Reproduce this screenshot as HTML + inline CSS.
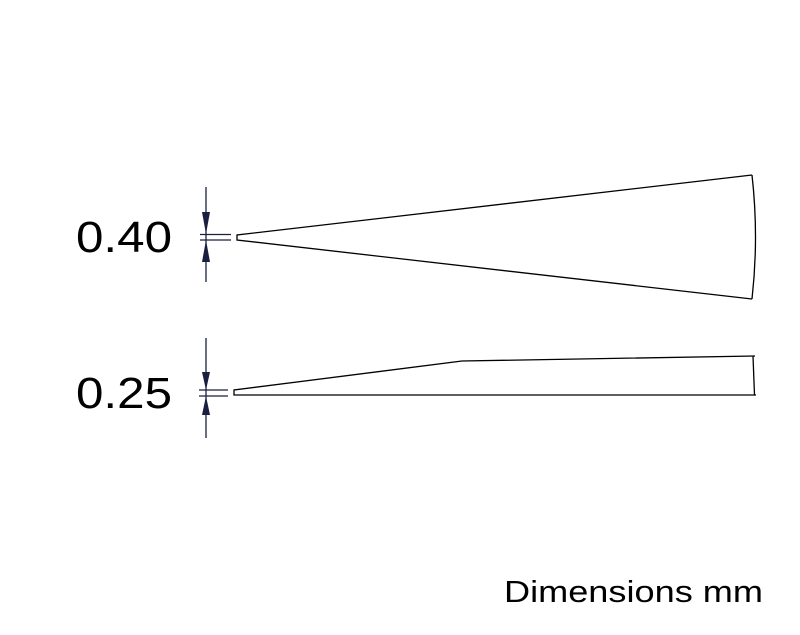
<!DOCTYPE html>
<html><head><style>
html,body{margin:0;padding:0;background:#fff;}
</style></head><body>
<svg width="800" height="630" viewBox="0 0 800 630" xmlns="http://www.w3.org/2000/svg">
<rect width="800" height="630" fill="#fff"/>
<g font-family="Liberation Sans, sans-serif" fill="#000">
<text x="76" y="252" font-size="44" textLength="96" lengthAdjust="spacingAndGlyphs">0.40</text>
<text x="76" y="408" font-size="44" textLength="96" lengthAdjust="spacingAndGlyphs">0.25</text>
<text x="504" y="602" font-size="31" textLength="259" lengthAdjust="spacingAndGlyphs">Dimensions mm</text>
</g>
<g stroke="#1a1f40" stroke-width="1.3" fill="none">
<line x1="206" y1="187" x2="206" y2="282"/>
<line x1="200" y1="234.5" x2="231" y2="234.5"/>
<line x1="200" y1="240" x2="231" y2="240"/>
<line x1="206" y1="338" x2="206" y2="438"/>
<line x1="199" y1="390" x2="228" y2="390"/>
<line x1="199" y1="396" x2="228" y2="396"/>
</g>
<g fill="#1a1f40">
<polygon points="202,212 210,212 206,234"/>
<polygon points="202,262 210,262 206,240"/>
<polygon points="202,372 210,372 206,390"/>
<polygon points="202,415 210,415 206,396"/>
</g>
<g stroke="#000" stroke-width="1.3" fill="none">
<polyline points="752,175 237,235 237,240 752,299"/>
<path d="M752,175 Q759,237 752,299"/>
<polyline points="755,356 462,361 234,390 234,395 756,395"/>
<line x1="753" y1="356" x2="754.5" y2="395"/>
</g>
</svg>
</body></html>
